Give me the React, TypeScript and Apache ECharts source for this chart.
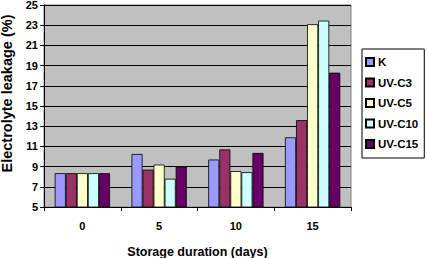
import React, { useEffect, useRef } from "react";
import * as echarts from "echarts";

const categories = ["0", "5", "10", "15"];
const seriesNames = ["K", "UV-C3", "UV-C5", "UV-C10", "UV-C15"];
const kValues = [8.35, 10.25, 9.7, 11.9];
const c3Values = [8.35, 8.7, 10.7, 13.6];
const c5Values = [8.35, 9.2, 8.55, 23.1];
const c10Values = [8.35, 7.8, 8.45, 23.45];
const c15Values = [8.35, 9.0, 10.35, 18.3];
const colors = ["#9999FF", "#993366", "#FFFFCC", "#CCFFFF", "#660066"];

export default function App() {
  const ref = useRef<HTMLDivElement>(null);
  useEffect(() => {
    if (!ref.current) return;
    const chart = echarts.init(ref.current, null, { renderer: "svg" });
    const font = "'Liberation Sans', Arial, sans-serif";
    const all = [kValues, c3Values, c5Values, c10Values, c15Values];
    chart.setOption({
      animation: false,
      backgroundColor: "#ffffff",
      textStyle: { fontFamily: font },
      grid: {
        left: 44,
        right: 76,
        top: 5,
        bottom: 51,
        outerBoundsMode: "none",
        containLabel: false,
        show: true,
        backgroundColor: "#C0C0C0",
        borderColor: "#808080",
        borderWidth: 1,
      },
      legend: {
        orient: "vertical",
        left: 362,
        top: 49,
        padding: [7, 6, 8, 3],
        itemWidth: 8,
        itemHeight: 8,
        itemGap: 8.5,
        borderColor: "#000",
        borderWidth: 1,
        icon: "rect",
        data: seriesNames,
        textStyle: { fontFamily: font, fontSize: 11.5, fontWeight: "bold", color: "#000", padding: [0, 0, 0, -1] },
      },
      xAxis: {
        type: "category",
        data: categories,
        name: "Storage duration (days)",
        nameLocation: "middle",
        nameGap: 38,
        nameTextStyle: { fontFamily: font, fontSize: 12.5, fontWeight: "bold", color: "#000" },
        axisLine: { lineStyle: { color: "#000", width: 1 } },
        axisTick: { show: true, length: 4, lineStyle: { color: "#000" } },
        axisLabel: { margin: 13, fontFamily: font, fontSize: 11, fontWeight: "bold", color: "#000" },
      },
      yAxis: {
        type: "value",
        min: 5,
        max: 25,
        interval: 2,
        name: "Electrolyte leakage (%)",
        nameLocation: "middle",
        nameGap: 29,
        nameTextStyle: { fontFamily: font, fontSize: 14.5, fontWeight: "bold", color: "#000", padding: [0, 0, 0, 25] },
        axisLine: { show: true, lineStyle: { color: "#000", width: 1 } },
        axisTick: { show: true, length: 4, lineStyle: { color: "#000" } },
        axisLabel: { margin: 6, fontFamily: font, fontSize: 11, fontWeight: "bold", color: "#000" },
        splitLine: { show: true, lineStyle: { color: "#000", width: 1 } },
      },
      series: seriesNames.map((name, i) => ({
        name,
        type: "bar",
        data: all[i],
        barGap: "0%",
        barCategoryGap: "28%",
        itemStyle: { color: colors[i], borderColor: "#000", borderWidth: 0.8 },
      })),
    });
    return () => chart.dispose();
  }, []);
  return <div ref={ref} style={{ width: 427, height: 258, position: "absolute", left: 0, top: 0 }} />;
}
